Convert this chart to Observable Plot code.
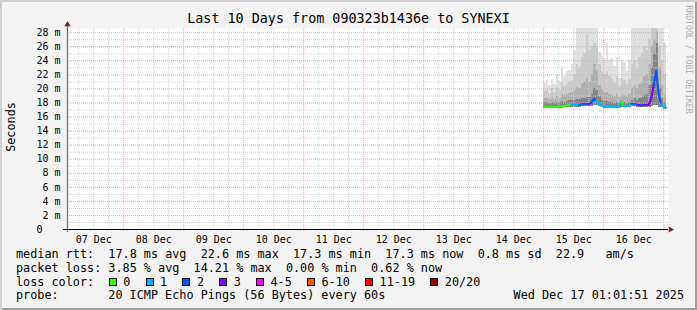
<!DOCTYPE html>
<html>
<head>
<meta charset="utf-8">
<script src="https://cdn.jsdelivr.net/npm/d3@7"></script>
<script src="https://cdn.jsdelivr.net/npm/@observablehq/plot@0.6"></script>
<style>
  html, body { margin:0; padding:0; background:#f3f3f3; }
  #wrap { position:relative; width:697px; height:310px; background:#f3f3f3; overflow:hidden; font-family:"DejaVu Sans Mono", monospace; color:#000; }
  #chart { position:absolute; left:0; top:0; }
  .t { position:absolute; white-space:pre; font-size:11.8px; line-height:14px; }
  #title { position:absolute; left:0; top:11px; width:697px; text-align:center; font-size:13.4px; line-height:16px; white-space:pre; }
  .box { position:absolute; top:278px; width:6px; height:6px; border:1px solid #000; }
  #shade { position:absolute; left:0; top:0; width:697px; height:310px; box-shadow: inset 2px 2px 0 #cfcfcf, inset -2px -2px 0 #9e9e9e; pointer-events:none; }
</style>
</head>
<body>
<div id="wrap">
  <div id="chart"></div>
  <div id="title"></div>
  <div id="legend"></div>
  <div id="shade"></div>
</div>
<script>
// ---------------- data ----------------
const titleText = "Last 10 Days from 090323b1436e to SYNEXI";
const yTicks = [0, 2, 4, 6, 8, 10, 12, 14, 16, 18, 20, 22, 24, 26, 28];
const yMinorGrid = [1, 3, 5, 7, 9, 11, 13, 15, 17, 19, 21, 23, 25, 27];
const dayLabels = ["07 Dec", "08 Dec", "09 Dec", "10 Dec", "11 Dec", "12 Dec", "13 Dec", "14 Dec", "15 Dec", "16 Dec"];

// hourly bins starting 15 Dec 00:00 UTC (ms values)
const medianRtt = [
  17.45,17.45,17.45,17.45,17.45,17.45,17.5,17.5,17.55,17.6,
  17.7,17.7,17.75,17.75,17.75,17.8,17.85,17.85,17.85,18.0,
  18.55,18.3,17.9,17.65,17.5,17.5,17.5,17.5,17.5,17.5,
  17.5,18.2,17.55,17.55,17.6,17.85,17.85,17.8,17.7,17.65,
  17.7,17.7,17.75,18.6,20.6,22.6,19.2,17.8,17.35
];
const lossCount = [
  0,0,0,0,0,0,0,0,0,0,
  0,1,1,1,2,2,2,2,3,2,
  2,1,1,1,1,1,1,1,1,1,
  1,0,1,1,1,2,2,2,3,2,
  3,3,3,3,2,2,2,1,1
];
const pingMin = [
  17.2,17.2,17.2,17.2,17.2,17.2,17.25,17.25,17.3,17.3,
  17.35,17.4,17.4,17.4,17.4,17.45,17.45,17.45,17.45,17.5,
  17.6,17.6,17.5,17.35,17.25,17.25,17.25,17.25,17.25,17.25,
  17.25,17.3,17.3,17.3,17.3,17.45,17.45,17.4,17.35,17.3,
  17.35,17.35,17.35,17.5,17.6,17.6,17.4,17.35,17.1
];
const smokeP60 = [
  18.0,18.0,17.9,18.0,17.9,18.1,18.0,18.2,18.1,18.2,
  18.3,18.3,18.4,18.5,18.5,18.6,18.7,18.8,18.8,19.2,
  20.0,19.8,18.9,18.4,18.2,18.2,18.0,18.0,17.9,18.0,
  17.9,18.0,18.0,17.9,18.0,18.4,18.6,18.4,18.6,18.8,
  19.0,19.2,20.5,23.0,25.0,26.5,20.0,18.6,18.0
];
const smokeP75 = [
  18.6,18.7,18.5,18.8,18.5,18.9,18.7,19.2,19.0,19.2,
  19.4,19.5,19.8,20.2,20.0,20.6,21.0,21.5,21.0,22.0,
  23.5,22.5,20.5,19.8,19.5,19.5,19.2,19.0,18.9,19.2,
  18.8,19.0,19.0,18.9,19.2,20.0,20.5,20.0,20.6,21.0,
  21.8,22.0,23.5,26.0,27.0,28.0,23.0,20.5,19.0
];
const smokeP90 = [
  19.6,19.8,19.4,20.0,19.5,20.2,19.8,20.8,20.3,20.6,
  21.0,21.2,22.0,23.5,23.0,24.5,25.0,27.8,25.5,26.0,
  26.5,26.0,23.5,22.5,22.0,22.5,21.8,21.5,20.8,21.8,
  20.3,21.5,21.2,20.6,21.4,23.5,24.0,23.0,24.5,25.0,
  26.0,25.5,27.0,28.6,28.6,28.6,26.0,24.0,22.0
];
const smokeMax = [
  20.8,21.2,20.5,21.4,20.6,22.0,21.0,23.0,21.8,22.5,
  22.6,23.5,25.4,28.6,28.6,28.6,28.6,28.6,28.6,28.6,
  28.6,28.6,25.2,24.8,24.3,26.4,24.2,24.4,23.2,24.5,
  21.5,24.0,23.8,22.5,24.0,28.6,28.6,28.6,28.6,28.6,
  28.6,28.6,28.6,28.6,28.6,28.6,28.6,28.6,26.5
];

const lossLabels = ["0", "1", "2", "3", "4-5", "6-10", "11-19", "20/20"];
const lossColors = ["#26ff00", "#00b8ff", "#0059ff", "#7e00ff", "#ff00ff", "#ff5500", "#ff0000", "#a10000"];

const rttStatLabels = ["avg", "max", "min", "now", "sd"];
const rttStatValues = [17.8, 22.6, 17.3, 17.3, 0.8];
const amPerSec = 22.9;
const lossStatLabels = ["avg", "max", "min", "now"];
const lossStatValues = [3.85, 14.21, 0.00, 0.62];
const probeText = "20 ICMP Echo Pings (56 Bytes) every 60s";
const dateText = "Wed Dec 17 01:01:51 2025";

// ---------------- build ----------------
const H = 3600e3;
const dataStart = Date.UTC(2025, 11, 15, 0, 0);
const xDomain = [new Date(Date.UTC(2025, 11, 7, 1, 30)), new Date(Date.UTC(2025, 11, 17, 1, 30))];
const times = d3.range(medianRtt.length + 1).map(i => new Date(dataStart + i * H));

function lossClass(n) {
  if (n <= 3) return n;
  if (n <= 5) return 4;
  if (n <= 10) return 5;
  if (n <= 19) return 6;
  return 7;
}

const rows = medianRtt.map((m, i) => ({
  t0: times[i], t1: times[i + 1],
  med: m, next: i + 1 < medianRtt.length ? medianRtt[i + 1] : m,
  lo: pingMin[i], p60: smokeP60[i], p75: smokeP75[i], p90: smokeP90[i], hi: smokeMax[i],
  color: lossColors[lossClass(lossCount[i])]
}));

const midnights = d3.utcDay.range(xDomain[0], xDomain[1]);
const sixHours = d3.utcHour.every(6).range(xDomain[0], xDomain[1]).filter(d => d.getUTCHours() !== 0);
const noonTicks = dayLabels.map((lab, i) => new Date(Date.UTC(2025, 11, 7 + i, 12)));

const mono = "DejaVu Sans Mono";
const gridGray = "#d2d2d2";
const gridRed = "#e3a8a8";

const chart = Plot.plot({
  width: 697,
  height: 245,
  marginLeft: 67,
  marginRight: 30,
  marginTop: 28,
  marginBottom: 16,
  style: { background: "transparent", fontFamily: mono, overflow: "visible" },
  x: { type: "utc", domain: xDomain },
  y: { domain: [0, 28.6] },
  color: { type: "identity" },
  marks: [
    Plot.frame({ fill: "white", stroke: "none", insetRight: -1 }),
    // smoke
    Plot.rect(rows, { x1: "t0", x2: "t1", y1: "lo", y2: "hi", fill: "#e0e0e0", shapeRendering: "crispEdges", clip: true }),
    Plot.rect(rows, { x1: "t0", x2: "t1", y1: "lo", y2: "p90", fill: "#cbcbcb", shapeRendering: "crispEdges", clip: true }),
    Plot.rect(rows, { x1: "t0", x2: "t1", y1: "lo", y2: "p75", fill: "#b0b0b0", shapeRendering: "crispEdges", clip: true }),
    Plot.rect(rows, { x1: "t0", x2: "t1", y1: "lo", y2: "p60", fill: "#858585", shapeRendering: "crispEdges", clip: true }),
    // grid
    Plot.ruleX(sixHours, { stroke: gridGray, strokeDasharray: "1,1" }),
    Plot.ruleY(yMinorGrid, { stroke: gridGray, strokeDasharray: "1,1", insetRight: -1 }),
    Plot.ruleY(yTicks.filter(v => v > 0), { stroke: gridRed, strokeDasharray: "1,1", insetRight: -1 }),
    Plot.ruleX(midnights, { stroke: gridRed, strokeDasharray: "1,1", insetBottom: -3 }),
    // median line coloured by loss
    Plot.link(rows, { x1: "t0", y1: "med", x2: "t1", y2: "next", stroke: "color", strokeWidth: 2, strokeLinecap: "round" }),
    // axes lines + arrows
    Plot.ruleX(xDomain.slice(0, 1), { stroke: "#6e6e6e", strokeWidth: 1.3, insetTop: -5, insetBottom: -3 }),
    Plot.ruleY([0], { stroke: "#000", strokeWidth: 1.2, insetLeft: -4, insetRight: -1 }),
    Plot.dot([0], { frameAnchor: "top-left", x: null, y: null, dy: -4, symbol: "triangle", r: 2.3, fill: "#8b1c1c", stroke: "none" }),
    Plot.dot([0], { frameAnchor: "bottom-right", x: null, y: null, dx: 3, dy: 0, symbol: "triangle", rotate: 90, r: 2.3, fill: "#8b1c1c", stroke: "none" }),
    // tick labels
    Plot.axisY({ ticks: yTicks, tickFormat: d => d === 0 ? "0\u00a0\u00a0\u00a0" : d + " m", tickSize: 0, tickPadding: 7, fontSize: 10, label: null }),
    Plot.axisX({ ticks: noonTicks, tickFormat: (d, i) => dayLabels[i], tickSize: 0, tickPadding: 6, fontSize: 10, label: null }),
    Plot.text(["Seconds"], { frameAnchor: "left", textAnchor: "middle", lineAnchor: "middle", dx: -56, dy: -2, rotate: -90, fontSize: 11.8, fill: "#000" }),
    Plot.text(["RRDTOOL / TOBI OETIKER"], { frameAnchor: "top-right", textAnchor: "middle", lineAnchor: "middle", dx: 21, dy: 31, rotate: 90, fontSize: 8.2, fill: "#b0b0b0" })
  ]
});
document.getElementById("chart").appendChild(chart);

// ---------------- title & legend ----------------
document.getElementById("title").textContent = titleText;
const legend = document.getElementById("legend");
function addText(txt, left, top, right) {
  const d = document.createElement("div");
  d.className = "t";
  d.textContent = txt;
  d.style.top = top + "px";
  if (right !== undefined) d.style.right = right + "px"; else d.style.left = left + "px";
  legend.appendChild(d);
  return d;
}
const line1 = "median rtt:  " + rttStatValues.map((v, i) => `${v.toFixed(1)} ms ${rttStatLabels[i]}`).join("  ") + `  ${amPerSec.toFixed(1)}   am/s`;
const line2 = "packet loss: " + lossStatValues.map((v, i) => `${v.toFixed(2)} % ${lossStatLabels[i]}`).join("  ");
addText(line1, 16, 246.5);
addText(line2, 16, 260.5);
addText("loss color:", 16, 274.5);
const cw = 7.1;
let bx = 108.7;
lossLabels.forEach((lab, i) => {
  const b = document.createElement("div");
  b.className = "box";
  b.style.left = bx + "px";
  b.style.background = lossColors[i];
  legend.appendChild(b);
  addText(lab, bx + 14.6, 274.5);
  bx += 14.6 + lab.length * cw + 15.1;
});
addText("probe:", 16, 288);
addText(probeText, 16 + 13 * cw, 288);
addText(dateText, 0, 288, 13);
</script>
</body>
</html>
